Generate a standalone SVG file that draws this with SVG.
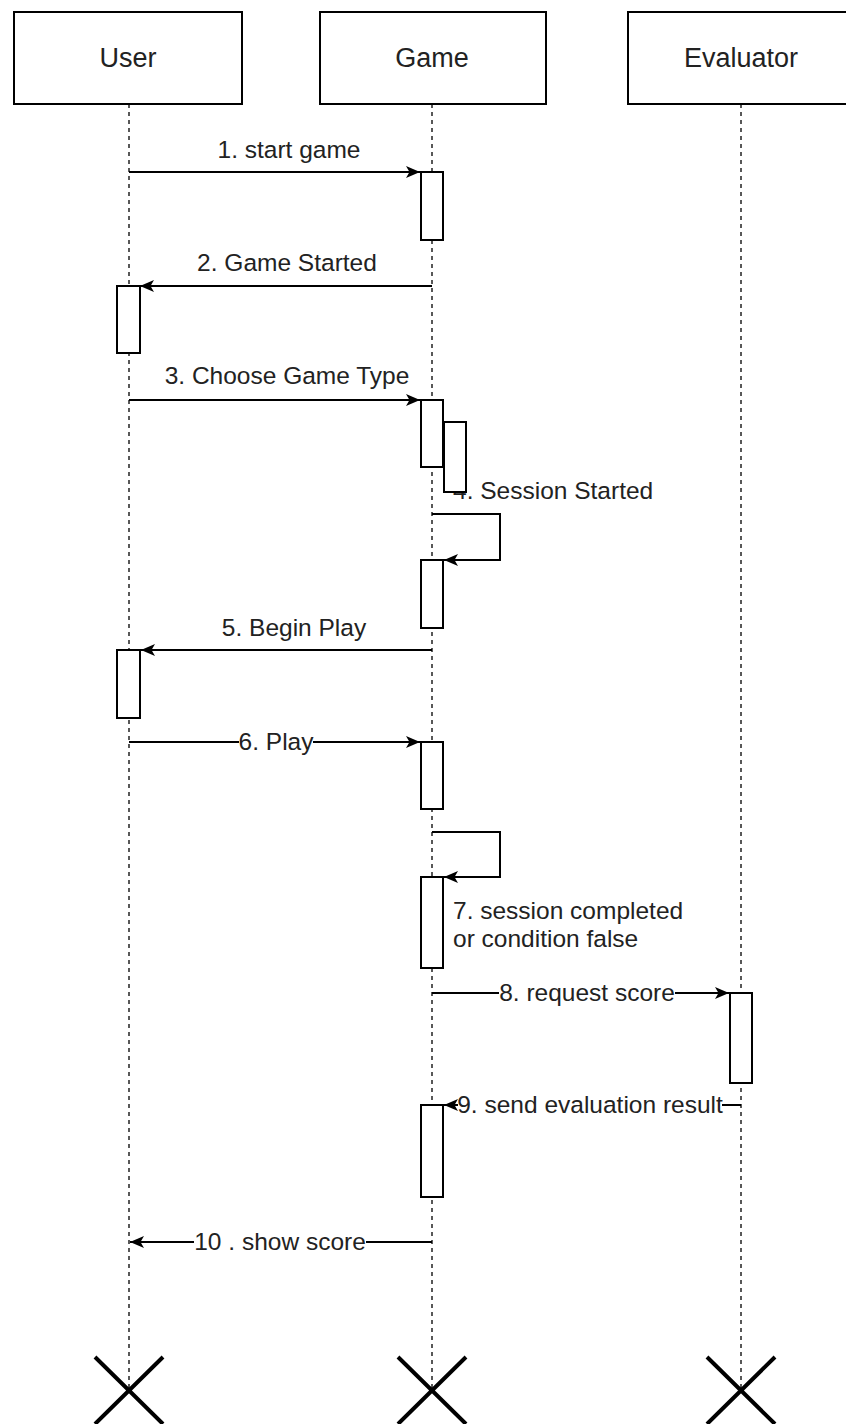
<svg xmlns="http://www.w3.org/2000/svg" width="846" height="1424" viewBox="0 0 846 1424">
<style>
.box{fill:#fff;stroke:#000;stroke-width:2}
.act{fill:#fff;stroke:#000;stroke-width:2}
.life{stroke:#222;stroke-width:1.5;stroke-dasharray:4 4;fill:none}
.msg{stroke:#000;stroke-width:2;fill:none}
.t{font-family:"Liberation Sans",Arial,sans-serif;font-size:24.5px;fill:#222}
.h{font-family:"Liberation Sans",Arial,sans-serif;font-size:27px;fill:#222}
.x{stroke:#000;stroke-width:4;fill:none}
.bg{fill:#fff}
</style>
<defs>
<marker id="ah" viewBox="0 0 14 12" refX="14" refY="6" markerWidth="14" markerHeight="12" markerUnits="userSpaceOnUse" orient="auto">
<path d="M0,0 L14,6 L0,12 L3.5,6 Z" fill="#000"/>
</marker>
</defs>
<rect width="846" height="1424" fill="#fff"/>
<g id="lifelines">
<line class="life" x1="129" y1="104" x2="129" y2="1390"/>
<line class="life" x1="432" y1="104" x2="432" y2="1390"/>
<line class="life" x1="741" y1="104" x2="741" y2="1390"/>
</g>
<g id="user"><rect class="box" x="14" y="12" width="228" height="92"/><text class="h" x="128" y="67" text-anchor="middle">User</text></g>
<g id="game"><rect class="box" x="320" y="12" width="226" height="92"/><text class="h" x="432" y="67" text-anchor="middle">Game</text></g>
<g id="evaluator"><rect class="box" x="628" y="12" width="228" height="92"/><text class="h" x="741" y="67" text-anchor="middle">Evaluator</text></g>
<g id="activations">
<rect id="act-g1" class="act" x="421" y="172" width="22" height="68"/>
<rect id="act-u1" class="act" x="117" y="286" width="23" height="67"/>
<rect id="act-g2" class="act" x="421" y="400" width="22" height="67"/>
<rect id="act-g4" class="act" x="421" y="560" width="22" height="68"/>
<rect id="act-u2" class="act" x="117" y="650" width="23" height="68"/>
<rect id="act-g5" class="act" x="421" y="742" width="22" height="67"/>
<rect id="act-g6" class="act" x="421" y="877" width="22" height="91"/>
<rect id="act-e1" class="act" x="730" y="993" width="22" height="90"/>
<rect id="act-g7" class="act" x="421" y="1105" width="22" height="92"/>
</g>
<g id="connectors">
<line class="msg" x1="129" y1="172" x2="420" y2="172" marker-end="url(#ah)"/>
<text class="t" x="289" y="158" text-anchor="middle">1. start game</text>
<line class="msg" x1="432" y1="286" x2="140" y2="286" marker-end="url(#ah)"/>
<text class="t" x="287" y="271" text-anchor="middle">2. Game Started</text>
<line class="msg" x1="129" y1="400" x2="420" y2="400" marker-end="url(#ah)"/>
<text class="t" x="287" y="384" text-anchor="middle">3. Choose Game Type</text>
<text class="t" x="453" y="499">4. Session Started</text>
<polyline class="msg" points="432,514 500,514 500,560 444,560" marker-end="url(#ah)"/>
<line class="msg" x1="432" y1="650" x2="141" y2="650" marker-end="url(#ah)"/>
<text class="t" x="294" y="636" text-anchor="middle">5. Begin Play</text>
<line class="msg" x1="129" y1="742" x2="420" y2="742" marker-end="url(#ah)"/>
<rect class="bg" x="239" y="730" width="74" height="24"/>
<text class="t" x="276" y="750" text-anchor="middle">6. Play</text>
<polyline class="msg" points="432,832 500,832 500,877 444,877" marker-end="url(#ah)"/>
<text class="t" x="453" y="919">7. session completed</text>
<text class="t" x="453" y="947">or condition false</text>
<line class="msg" x1="432" y1="993" x2="729" y2="993" marker-end="url(#ah)"/>
<rect class="bg" x="499" y="981" width="176" height="24"/>
<text class="t" x="587" y="1001" text-anchor="middle">8. request score</text>
<line class="msg" x1="741" y1="1105" x2="444" y2="1105" marker-end="url(#ah)"/>
<rect class="bg" x="458" y="1093" width="264" height="24"/>
<text class="t" x="590" y="1113" text-anchor="middle">9. send evaluation result</text>
<line class="msg" x1="432" y1="1242" x2="130" y2="1242" marker-end="url(#ah)"/>
<rect class="bg" x="194" y="1230" width="172" height="24"/>
<text class="t" x="280" y="1250" text-anchor="middle">10 . show score</text>
</g>
<g id="act-g3"><rect class="act" x="444" y="422" width="22" height="70"/></g>
<g id="destroy">
<path class="x" d="M95,1357 L163,1424 M163,1357 L95,1424"/>
<path class="x" d="M398,1357 L466,1424 M466,1357 L398,1424"/>
<path class="x" d="M707,1357 L775,1424 M775,1357 L707,1424"/>
</g>
</svg>
